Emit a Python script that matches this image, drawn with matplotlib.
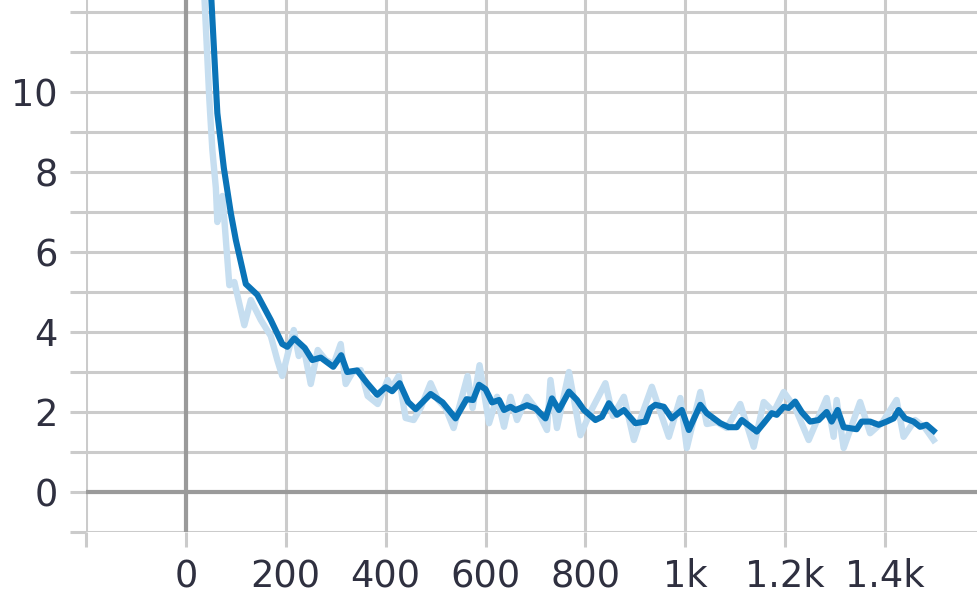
import matplotlib
matplotlib.use("Agg")
import matplotlib.pyplot as plt
from matplotlib.ticker import FixedLocator, FixedFormatter, MultipleLocator

# smoothed loss (dark line)
smooth_steps = [30, 63, 76, 90, 100, 120, 143, 170, 193, 203, 217, 238, 253, 270, 295,
                311, 323, 343, 363, 383, 400, 413, 428, 445, 460, 490, 514, 540, 562,
                575, 587, 600, 613, 627, 637, 650, 660, 670, 683, 700, 720, 733, 747,
                767, 783, 797, 820, 833, 847, 863, 877, 900, 920, 930, 940, 957, 973,
                993, 1007, 1030, 1043, 1070, 1087, 1103, 1113, 1143, 1157, 1173, 1183,
                1197, 1207, 1220, 1233, 1250, 1267, 1283, 1293, 1305, 1317, 1343, 1353,
                1370, 1387, 1403, 1417, 1427, 1440, 1457, 1470, 1483, 1497]
smooth_loss = [17.3, 9.47, 8.1, 6.97, 6.3, 5.2, 4.93, 4.3, 3.7, 3.63, 3.84, 3.6, 3.3, 3.36,
               3.13, 3.42, 3.0, 3.04, 2.72, 2.43, 2.62, 2.52, 2.72, 2.25, 2.07, 2.45, 2.24,
               1.84, 2.32, 2.3, 2.68, 2.57, 2.24, 2.3, 2.05, 2.13, 2.05, 2.1, 2.17, 2.09,
               1.84, 2.34, 2.05, 2.51, 2.3, 2.05, 1.8, 1.88, 2.22, 1.93, 2.05, 1.72, 1.76,
               2.09, 2.18, 2.13, 1.84, 2.05, 1.55, 2.18, 1.97, 1.72, 1.62, 1.62, 1.8, 1.51,
               1.72, 1.97, 1.93, 2.13, 2.1, 2.26, 2.0, 1.76, 1.8, 2.0, 1.76, 2.05, 1.62,
               1.57, 1.76, 1.76, 1.68, 1.76, 1.84, 2.05, 1.84, 1.76, 1.63, 1.68, 1.53]

# raw loss (light line)
raw_steps = [25, 47, 53, 60, 63, 73, 77, 87, 97, 117, 130, 150, 170, 183, 193, 216, 226,
             236, 250, 264, 280, 296, 310, 320, 334, 350, 364, 384, 404, 412, 426, 440,
             456, 470, 490, 505, 520, 536, 564, 574, 588, 607, 623, 637, 650, 663, 683,
             703, 723, 730, 743, 767, 790, 810, 840, 855, 877, 897, 915, 933, 950, 967,
             990, 1003, 1030, 1043, 1063, 1083, 1110, 1137, 1157, 1177, 1197, 1220, 1247,
             1283, 1297, 1303, 1317, 1350, 1370, 1395, 1423, 1437, 1460, 1480, 1497]
raw_loss = [15.5, 9.8, 8.55, 7.6, 6.75, 7.4, 6.8, 5.17, 5.25, 4.17, 4.8, 4.3, 3.9, 3.3, 2.9,
            4.05, 3.4, 3.6, 2.7, 3.55, 3.3, 3.2, 3.7, 2.7, 3.0, 3.05, 2.4, 2.2, 2.8, 2.6,
            2.9, 1.85, 1.8, 2.1, 2.72, 2.3, 2.1, 1.6, 2.9, 2.1, 3.17, 1.72, 2.38, 1.63,
            2.38, 1.8, 2.38, 2.05, 1.55, 2.8, 1.6, 3.0, 1.42, 2.0, 2.72, 1.9, 2.38, 1.3,
            2.0, 2.63, 2.0, 1.38, 2.35, 1.1, 2.5, 1.7, 1.75, 1.6, 2.2, 1.13, 2.25, 2.0,
            2.5, 2.1, 1.3, 2.35, 1.38, 2.3, 1.1, 2.25, 1.47, 1.75, 2.3, 1.38, 1.8, 1.6, 1.3]

x_ticks = [-200, 0, 200, 400, 600, 800, 1000, 1200, 1400]
x_labels = ["", "0", "200", "400", "600", "800", "1k", "1.2k", "1.4k"]
y_ticks = [0, 2, 4, 6, 8, 10]

grid_col = "#cbcbcb"
text_col = "#2f3040"

fig = plt.figure(figsize=(9.78, 5.94), dpi=100)
ax = fig.add_axes([86 / 978, (594 - 532) / 594, 1 - 86 / 978, 532 / 594])

ax.plot(raw_steps, raw_loss, color="#c6def0", lw=4.6, zorder=3)
ax.plot(smooth_steps, smooth_loss, color="#0a74b8", lw=4.4, zorder=4)

ax.set_xlim(-200, 1586)
ax.set_ylim(-1, 12.3)

ax.xaxis.set_major_locator(FixedLocator(x_ticks))
ax.xaxis.set_major_formatter(FixedFormatter(x_labels))
ax.yaxis.set_major_locator(FixedLocator(y_ticks))
ax.yaxis.set_minor_locator(MultipleLocator(1))

ax.grid(True, which="both", color=grid_col, lw=2.2, zorder=1)
ax.axhline(0, color="#9a9a9a", lw=3.0, zorder=2)
ax.axvline(0, color="#9a9a9a", lw=3.0, zorder=2)

ax.tick_params(axis="both", which="both", color=grid_col, width=2.2, labelcolor=text_col,
               labelsize=26.5)
ax.tick_params(axis="y", which="both", length=11.5, pad=9)
ax.tick_params(axis="x", length=11, pad=8)
for s in ax.spines.values():
    s.set_visible(False)

fig.savefig("out.png", dpi=100)
